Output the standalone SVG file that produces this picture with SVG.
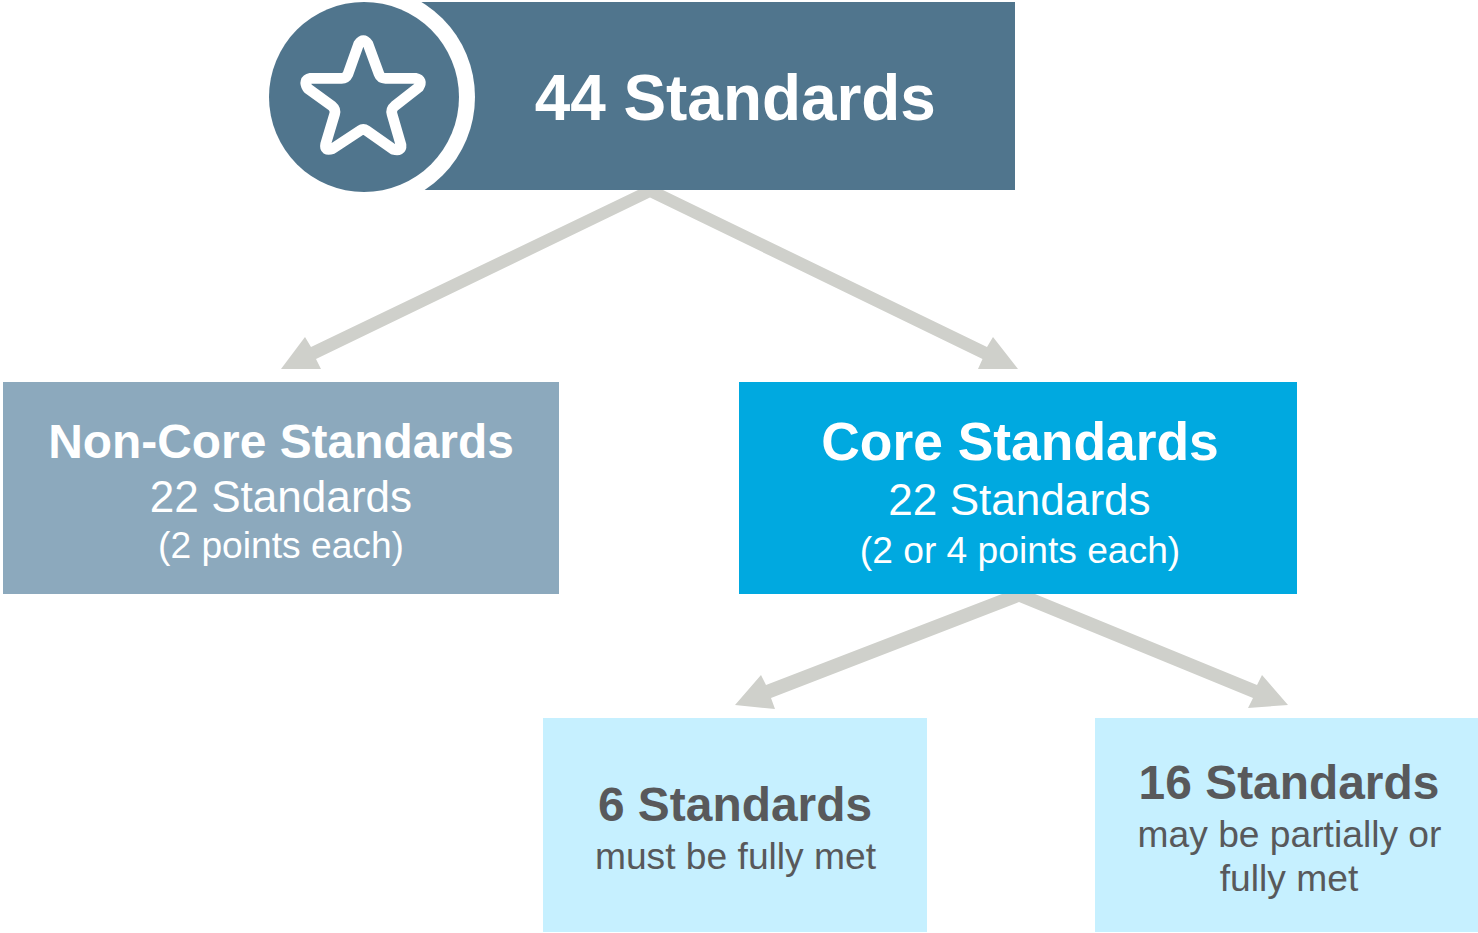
<svg xmlns="http://www.w3.org/2000/svg" width="1478" height="933" viewBox="0 0 1478 933">
<style>
text{font-family:"Liberation Sans",Arial,sans-serif;text-anchor:middle}
.b{font-weight:700}
.w{fill:#fff}
.d{fill:#58595b}
.s44{font-size:44.1px}
.s37{font-size:37.2px}
.s48{font-size:47.9px}
.arrow{fill:#cfd0cb}
</style>
<rect width="1478" height="933" fill="#fff"/>
<g id="connectors">
<path class="arrow" d="M638 190H663L987 347 993 337 1018 369 978 369 982.500 359 650 197.500 316 359 321 369 281 369 305 337 311 347Z"/>
<path class="arrow" d="M1002 594H1035L1257 685 1262 675 1288 705 1248 708 1253 698 1019 602 771 698 775 709 735 705 761 675 766 685Z"/>
</g>
<g id="node-44">
<rect x="400" y="2" width="615" height="188" fill="#50758d"/>
<circle cx="364" cy="97" r="111" fill="#fff"/>
<circle cx="364" cy="97" r="95" fill="#50758d"/>
<path transform="translate(260 0) scale(.33333)" fill="none" stroke="#fff" stroke-width="32" stroke-linejoin="round" d="M296 132Q310 112 324 132L357 222Q362 235 376 235L466 235Q490 240 476 262L404 318Q392 328 396 342L423 435Q425 455 400 448L320 392Q310 385 300 392L218 446Q192 455 197 432L224 342Q228 328 216 318L143 265Q128 240 152 235L245 235Q258 235 264 222Z"/>
<text class="b w" x="735.300" y="120" font-size="63.900">44 Standards</text>
</g>
<g id="node-noncore">
<rect x="3" y="382" width="556" height="212" fill="#8ca9bd"/>
<text class="b w s48" x="281" y="458">Non-Core Standards</text>
<text class="w s44" x="281" y="512">22 Standards</text>
<text class="w s37" x="281" y="558">(2 points each)</text>
</g>
<g id="node-core">
<rect x="739" y="382" width="558" height="212" fill="#00a9e0"/>
<text class="b w" x="1020" y="460" font-size="53.400">Core Standards</text>
<text class="w s44" x="1019.500" y="515">22 Standards</text>
<text class="w s37" x="1020" y="563">(2 or 4 points each)</text>
</g>
<g id="node-6">
<rect x="543" y="718" width="384" height="214" fill="#c6f0ff"/>
<text class="b d s48" x="735" y="821">6 Standards</text>
<text class="d s37" x="735.500" y="869">must be fully met</text>
</g>
<g id="node-16">
<rect x="1095" y="718" width="383" height="214" fill="#c6f0ff"/>
<text class="b d s48" x="1289" y="799">16 Standards</text>
<text class="d s37" x="1289.500" y="847">may be partially or</text>
<text class="d s37" x="1289" y="891">fully met</text>
</g>
</svg>
